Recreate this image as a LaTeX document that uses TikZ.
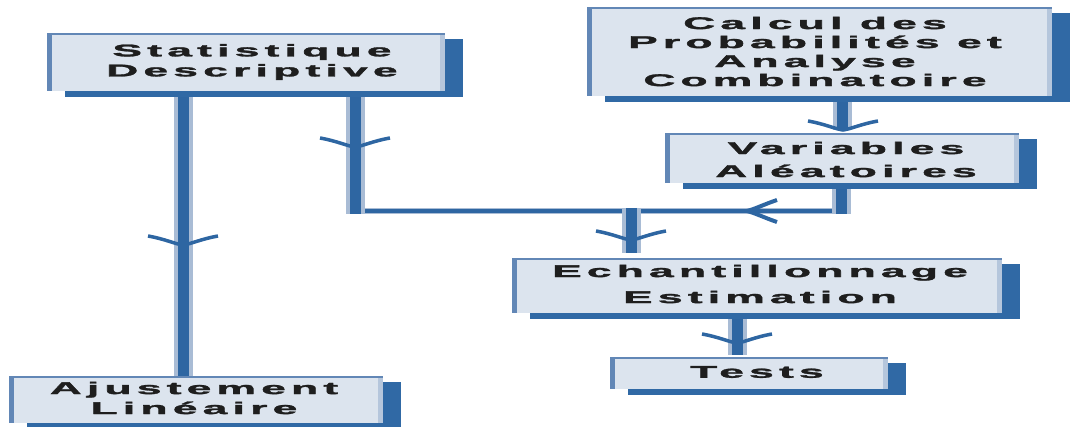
\documentclass[tikz,border=0pt]{standalone}
\usepackage{fontspec}
\usepackage{graphicx}
\newfontfamily\bxf[LetterSpace=12,FakeBold=1.5]{Liberation Sans Bold}
\usetikzlibrary{shadows,backgrounds}
\definecolor{facec}{HTML}{DCE4EE}
\definecolor{shadc}{HTML}{3069A5}
\definecolor{edgec}{HTML}{6287B6}
\definecolor{lightc}{HTML}{B5C6DC}
\definecolor{linec}{HTML}{2E66A2}
\definecolor{halo}{HTML}{A9BCD5}
\definecolor{textc}{HTML}{1E1E1E}
\newcommand{\sx}[1]{\scalebox{2.6}[1]{#1}}
\begin{document}
\begin{tikzpicture}[x=1pt,y=-1pt,
  box/.style={rectangle, inner sep=0pt, fill=facec,
    drop shadow={shadow xshift=18pt, shadow yshift=-6pt, fill=shadc, opacity=1},
    path picture={
      \fill[lightc] ([xshift=-5pt]path picture bounding box.north east) rectangle (path picture bounding box.south east);
      \fill[edgec] (path picture bounding box.north west) rectangle ([xshift=5pt]path picture bounding box.south west);
      \fill[edgec] (path picture bounding box.north west) rectangle ([yshift=-2pt]path picture bounding box.north east);
    }},
  txt/.style={align=center, inner sep=0pt, text=textc,
    font=\bxf\fontsize{17}{#1}\selectfont},
  vline/.style={draw=halo, line width=19pt, postaction={draw=linec, line width=11pt}},
  hline/.style={draw=halo, line width=6pt, postaction={draw=linec, line width=4pt}},
  dnhead/.pic={\draw[linec, line width=3.5pt] (-35,-9) .. controls (-18,-6) and (-8,-1) .. (0,0) .. controls (8,-1) and (18,-6) .. (35,-9);},
  lfhead/.pic={\draw[linec, line width=4pt] (30,-11) .. controls (18,-7) and (8,-2) .. (0,0) .. controls (8,2) and (18,7) .. (30,11);}
]
\useasboundingbox (0,0) rectangle (1070,427);

\node[box, minimum width=398pt, minimum height=58pt] (b1) at (246,62) {};
\node[box, minimum width=465pt, minimum height=89pt] (b2) at (819.5,51.5) {};
\node[box, minimum width=354pt, minimum height=50pt] (b3) at (842,158) {};
\node[box, minimum width=490pt, minimum height=55pt] (b4) at (757,285.5) {};
\node[box, minimum width=278pt, minimum height=32pt] (b5) at (749,373) {};
\node[box, minimum width=374pt, minimum height=47pt] (b6) at (196,399.5) {};

\node[txt=20pt] (t1) at (252,62) {\sx{Statistique}\\\sx{Descriptive}};
\node[txt=19pt] (t2) at (815,51.5) {\sx{Calcul des}\\\sx{Probabilités et}\\\sx{Analyse}\\\sx{Combinatoire}};
\node[txt=23pt] (t3) at (846,159.5) {\sx{Variables}\\\sx{Aléatoires}};
\node[txt=26pt] (t4) at (760,284) {\sx{Echantillonnage}\\\sx{Estimation}};
\node[txt=20pt] (t5) at (757,372) {\sx{Tests}};
\node[txt=20pt] (t6) at (194,398) {\sx{Ajustement}\\\sx{Linéaire}};

\coordinate (jl) at (355,211);
\coordinate (jr) at (841,211);
\coordinate (jm) at (631,211);
\coordinate (c45) at (737,0);
\coordinate (c16) at (183,0);

\begin{scope}[on background layer]
  \draw[vline, shorten >=3pt] (b3.north |- b2.south) -- (b3.north);
  \draw[hline] (jr) -- (jl);
  \draw[vline] (b3.south -| jr) -- ([yshift=-3pt]jr);
  \draw[vline] (b1.south -| jl) -- ([yshift=-3pt]jl);
  \draw[vline, shorten >=5pt] ([yshift=3pt]jm) -- (b4.north -| jm);
  \draw[vline, shorten >=2pt] (b4.south -| c45) -- (b5.north -| c45);
  \draw[vline] (b1.south -| c16) -- (b6.north -| c16);
\end{scope}

\pic at (843,130) {dnhead};
\pic at (355,147) {dnhead};
\pic at (183,245) {dnhead};
\pic at (631,240) {dnhead};
\pic at (737,343) {dnhead};
\pic at (747,211) {lfhead};
\end{tikzpicture}
\end{document}
